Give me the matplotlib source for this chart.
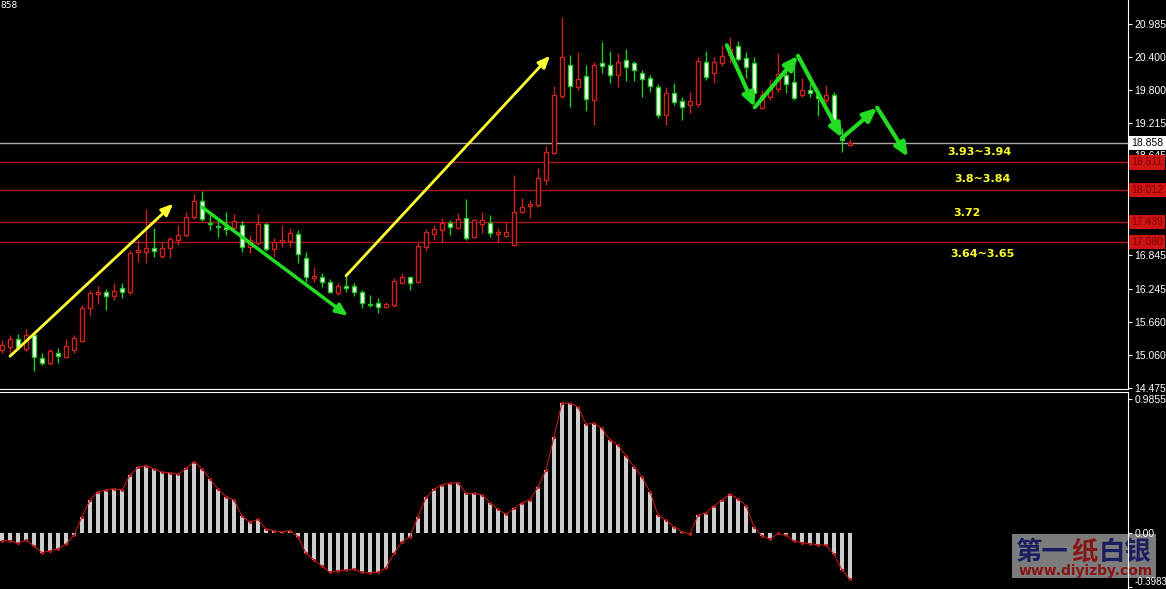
import matplotlib.pyplot as plt
from matplotlib.patches import Rectangle

# Donnees des bougies
opens = [15.15, 15.21, 15.35, 15.17, 15.42, 15.01, 14.92, 15.10, 15.03, 15.15,
         15.31, 15.90, 16.15, 16.19, 16.12, 16.26, 16.19, 16.91, 16.91, 16.98,
         16.84, 16.98, 17.12, 17.21, 17.53, 17.82, 17.43, 17.37, 17.35, 17.34,
         17.39, 17.00, 17.07, 17.41, 16.96, 17.09, 17.10, 17.23, 16.80, 16.44,
         16.46, 16.37, 16.17, 16.28, 16.30, 16.19, 15.96, 15.99, 15.92, 15.96,
         16.35, 16.46, 16.37, 17.00, 17.23, 17.30, 17.43, 17.34, 17.52, 17.18,
         17.41, 17.43, 17.23, 17.19, 17.03, 17.62, 17.73, 17.75, 18.20, 18.68,
         19.70, 20.26, 19.86, 20.06, 19.63, 20.29, 20.26, 20.08, 20.35, 20.29,
         20.11, 20.02, 19.86, 19.36, 19.75, 19.61, 19.54, 19.56, 20.31, 20.11,
         20.29, 20.44, 20.60, 20.38, 20.29, 19.49, 19.68, 19.83, 20.08, 19.95,
         19.72, 19.81, 19.72, 19.63, 19.72, 18.97, 18.82]
highs = [15.33, 15.42, 15.44, 15.53, 15.46, 15.10, 15.17, 15.19, 15.35, 15.42,
         15.96, 16.23, 16.30, 16.24, 16.35, 16.35, 16.94, 17.12, 17.68, 17.34,
         17.09, 17.18, 17.39, 17.62, 17.95, 18.00, 17.62, 17.52, 17.62, 17.59,
         17.46, 17.21, 17.59, 17.43, 17.16, 17.39, 17.34, 17.30, 16.91, 16.64,
         16.53, 16.42, 16.35, 16.53, 16.35, 16.23, 16.14, 16.08, 16.01, 16.44,
         16.53, 16.46, 17.07, 17.32, 17.39, 17.52, 17.48, 17.61, 17.86, 17.50,
         17.62, 17.57, 17.34, 17.44, 18.29, 17.87, 17.84, 18.41, 18.81, 19.88,
         21.12, 20.44, 20.49, 20.26, 20.31, 20.67, 20.51, 20.47, 20.54, 20.33,
         20.17, 20.08, 19.92, 19.86, 19.93, 19.68, 19.77, 20.40, 20.51, 20.40,
         20.61, 20.76, 20.69, 20.49, 20.40, 19.81, 19.99, 20.47, 20.20, 20.29,
         20.02, 19.93, 19.81, 19.90, 19.77, 19.13, 18.93]
lows = [15.10, 15.06, 15.15, 15.13, 14.78, 14.88, 14.88, 14.92, 15.01, 15.10,
        15.30, 15.76, 15.98, 15.87, 16.05, 16.08, 16.14, 16.73, 16.71, 16.82,
        16.80, 16.80, 17.03, 17.18, 17.50, 17.46, 17.30, 17.18, 17.21, 17.28,
        16.91, 16.89, 17.03, 16.93, 16.82, 17.00, 17.00, 16.71, 16.37, 16.37,
        16.28, 16.17, 16.14, 16.19, 16.12, 15.90, 15.92, 15.81, 15.90, 15.92,
        16.35, 16.23, 16.35, 16.93, 17.12, 17.09, 17.21, 17.32, 17.12, 17.16,
        17.25, 17.18, 17.09, 17.18, 17.01, 17.61, 17.52, 17.71, 18.11, 18.66,
        19.67, 19.50, 19.81, 19.43, 19.18, 20.11, 19.93, 19.86, 19.97, 19.97,
        19.68, 19.77, 19.31, 19.18, 19.54, 19.27, 19.40, 19.50, 19.99, 19.93,
        20.24, 20.29, 20.33, 20.02, 19.67, 19.47, 19.63, 19.77, 19.75, 19.63,
        19.68, 19.68, 19.34, 19.58, 19.22, 18.70, 18.80]
closes = [15.24, 15.35, 15.21, 15.42, 15.03, 14.92, 15.13, 15.04, 15.22, 15.37,
          15.90, 16.17, 16.19, 16.12, 16.21, 16.19, 16.89, 16.94, 16.98, 16.93,
          16.98, 17.14, 17.21, 17.53, 17.82, 17.50, 17.41, 17.35, 17.32, 17.46,
          17.00, 17.12, 17.41, 16.96, 17.09, 17.12, 17.25, 16.87, 16.46, 16.48,
          16.37, 16.19, 16.30, 16.27, 16.19, 15.99, 15.95, 15.92, 15.98, 16.39,
          16.46, 16.35, 17.01, 17.27, 17.32, 17.43, 17.35, 17.50, 17.16, 17.48,
          17.48, 17.25, 17.27, 17.27, 17.62, 17.71, 17.77, 18.23, 18.70, 19.72,
          20.40, 19.88, 20.01, 19.65, 20.26, 20.24, 20.08, 20.31, 20.22, 20.17,
          20.01, 19.88, 19.36, 19.75, 19.59, 19.50, 19.61, 20.33, 20.04, 20.31,
          20.42, 20.54, 20.36, 20.22, 19.75, 19.72, 19.83, 20.10, 19.92, 19.67,
          19.81, 19.75, 19.67, 19.72, 19.27, 18.91, 18.858]

# Oscillateur (fenetre du bas)
osc = [-0.059, -0.059, -0.079, -0.054, -0.098, -0.147, -0.133, -0.118, -0.084, -0.017,
       0.118, 0.241, 0.302, 0.314, 0.324, 0.314, 0.425, 0.482, 0.494, 0.472,
       0.445, 0.442, 0.430, 0.474, 0.523, 0.472, 0.396, 0.322, 0.265, 0.241,
       0.123, 0.076, 0.098, 0.025, 0.015, 0.005, 0.015, -0.029, -0.152, -0.201,
       -0.246, -0.292, -0.280, -0.275, -0.268, -0.292, -0.295, -0.292, -0.258, -0.152,
       -0.066, -0.029, 0.118, 0.260, 0.319, 0.354, 0.364, 0.369, 0.290, 0.290,
       0.278, 0.221, 0.172, 0.135, 0.179, 0.221, 0.241, 0.339, 0.462, 0.708,
       0.958, 0.953, 0.929, 0.799, 0.806, 0.769, 0.683, 0.646, 0.565, 0.486,
       0.408, 0.302, 0.130, 0.093, 0.044, 0.007, -0.010, 0.128, 0.147, 0.197,
       0.241, 0.283, 0.248, 0.199, 0.044, -0.025, -0.047, -0.005, -0.020, -0.061,
       -0.074, -0.081, -0.091, -0.091, -0.160, -0.275, -0.344]

# Niveaux horizontaux et graduations
niveaux_rouges = [18.511, 18.012, 17.439, 17.080]
prix_actuel = 18.858
ticks_prix = [20.985, 20.400, 19.800, 19.215, 18.645, 16.845, 16.245, 15.660, 15.060, 14.475]
ticks_osc = [0.9855, 0.00, -0.3983]

# Annotations
textes = ["3.93~3.94", "3.8~3.84", "3.72", "3.64~3.65"]
textes_x = [118.2, 119.0, 118.9, 118.5]
textes_y = [18.70, 18.21, 17.60, 16.87]

fleches_jaunes = [((1.0, 15.04), (21.4, 17.77)), ((43.0, 16.48), (68.5, 20.42))]
fleche_verte = ((25.0, 17.71), (43.25, 15.76))
zigzag_x = [90.6, 94.1, 99.5, 105.0, 109.4, 113.25]
zigzag_y = [20.61, 19.50, 20.42, 18.95, 19.49, 18.61]

HAUSSE = '#d02020'
BAISSE = '#22cc22'
JAUNE = '#ffff30'
VERT_FLECHE = '#22dd22'
POLICE_AXE = 'Liberation Sans'

fig = plt.figure(figsize=(11.66, 5.89), dpi=100, facecolor='black')
ax = fig.add_axes([0, 200 / 589, 1128 / 1166, 389 / 589])
ax2 = fig.add_axes([0, 0, 1128 / 1166, 197 / 589])

for a in (ax, ax2):
    a.set_facecolor('black')
    a.set_xlim(-0.25, 140.75)
    a.set_xticks([])
    for s in ('left', 'top', 'bottom', 'right'):
        a.spines[s].set_visible(False)
    a.spines['right'].set_visible(True)
    a.spines['right'].set_color('white')
    a.yaxis.tick_right()
    a.tick_params(axis='y', colors='white', labelsize=7.5, length=3, width=0.8, pad=1.5)

ax.spines['bottom'].set_visible(True)
ax.spines['bottom'].set_color('white')
ax2.spines['top'].set_visible(True)
ax2.spines['top'].set_color('white')

# Bougies
for i in range(len(opens)):
    o, h, l, c = opens[i], highs[i], lows[i], closes[i]
    if c >= o:
        couleur, fond = HAUSSE, 'black'
    else:
        couleur, fond = BAISSE, 'white'
    ax.vlines(i, l, h, color=couleur, lw=1, zorder=2)
    bas = min(o, c)
    haut = max(abs(c - o), 0.02)
    ax.bar(i, haut, bottom=bas, width=0.6, facecolor=fond, edgecolor=couleur, lw=1, zorder=3)

# Lignes horizontales
for n in niveaux_rouges:
    ax.axhline(n, color='#b01818', lw=1, zorder=1)
ax.axhline(prix_actuel, color='#a8a8a8', lw=1, zorder=1)

ax.set_ylim(14.453, 21.42)
ax.set_yticks(ticks_prix)
ax.set_yticklabels([f"{t:.3f}" for t in ticks_prix], family=POLICE_AXE)

# Etiquettes encadrees sur l'axe
tr = ax.get_yaxis_transform()
ax.text(1.003, prix_actuel, f"{prix_actuel:.3f}", transform=tr, color='black', fontsize=7.5,
        family=POLICE_AXE, va='center', ha='left', clip_on=False, zorder=6,
        bbox=dict(boxstyle='square,pad=0.2', facecolor='white', edgecolor='none'))
for n in niveaux_rouges:
    ax.text(1.003, n, f"{n:.3f}", transform=tr, color='#7a0000', fontsize=7.5,
            family=POLICE_AXE, va='center', ha='left', clip_on=False, zorder=6,
            bbox=dict(boxstyle='square,pad=0.2', facecolor='#d01414', edgecolor='none'))

# Textes jaunes
for t, x, y in zip(textes, textes_x, textes_y):
    ax.text(x, y, t, color=JAUNE, fontsize=8, fontweight='bold', va='center', ha='left', zorder=5)

# Fleches
for debut, fin in fleches_jaunes:
    ax.annotate('', xy=fin, xytext=debut, zorder=5,
                arrowprops=dict(arrowstyle='-|>,head_length=0.7,head_width=0.3', color=JAUNE,
                                lw=2, shrinkA=0, shrinkB=0))
ax.annotate('', xy=fleche_verte[1], xytext=fleche_verte[0], zorder=5,
            arrowprops=dict(arrowstyle='-|>,head_length=0.7,head_width=0.3', color=VERT_FLECHE,
                            lw=2.5, shrinkA=0, shrinkB=0))
for k in range(len(zigzag_x) - 1):
    ax.annotate('', xy=(zigzag_x[k + 1], zigzag_y[k + 1]), xytext=(zigzag_x[k], zigzag_y[k]), zorder=5,
                arrowprops=dict(arrowstyle='-|>,head_length=0.8,head_width=0.35', color=VERT_FLECHE,
                                lw=3, shrinkA=0, shrinkB=0))

# Oscillateur
x_osc = list(range(len(osc)))
ax2.bar(x_osc, osc, width=0.4, color='#cccccc', zorder=2)
ax2.plot(x_osc, osc, color='#c01818', lw=0.8, marker='o', markersize=1.2, zorder=3)
ax2.set_ylim(-0.415, 1.037)
ax2.set_yticks(ticks_osc)
ax2.set_yticklabels(["0.9855", "0.00", "-0.3983"], family=POLICE_AXE)
etiquette_min = ax2.get_yticklabels()[2]
etiquette_min.set_va('bottom')
etiquette_min.set_fontsize(7)

# Texte en haut a gauche
fig.text(0.0, 0.998, "858", color='white', fontsize=6.5, va='top', ha='left')

# Logo en filigrane
ax2.add_patch(Rectangle((1012 / 1166, 11 / 589), 144 / 1166, 44 / 589, transform=fig.transFigure,
                        facecolor='#7c7c7c', edgecolor='none', zorder=0.5, clip_on=False))
cjk = ['Noto Sans CJK SC', 'DejaVu Sans']
for morceau, x0, coul in [("第一", 1015, '#1c1c60'), ("纸", 1071, '#8a1414'), ("白银", 1099, '#1c1c60')]:
    ax2.text(x0 / 1166, (589 - 552) / 589, morceau, transform=fig.transFigure, family=cjk,
             fontsize=19, fontweight='bold', color=coul, va='center', ha='left', zorder=0.6, clip_on=False)
ax2.text(1086 / 1166, (589 - 571) / 589, "www.diyizby.com", transform=fig.transFigure,
         fontsize=10, fontweight='bold', color='#8a1414', va='center', ha='center', zorder=0.6, clip_on=False)

plt.savefig("out.png", dpi=100, facecolor='black')
plt.close()
